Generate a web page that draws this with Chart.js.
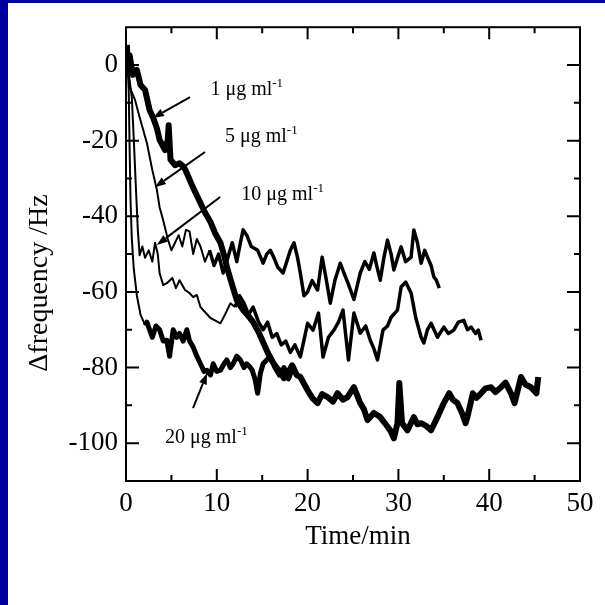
<!DOCTYPE html>
<html>
<head>
<meta charset="utf-8">
<script src="https://cdn.jsdelivr.net/npm/chart.js@4.4.1/dist/chart.umd.min.js"></script>
<style>
  html, body { margin: 0; padding: 0; background: #0000a0; }
  #wrap { position: absolute; left: 8px; top: 3px; width: 597px; height: 602px; background: #fff; }
</style>
</head>
<body>
<div id="wrap"><canvas id="qcm" width="597" height="602"></canvas></div>
<script>
// Axis ticks
const xTicks = [0, 10, 20, 30, 40, 50];
const yTicks = [0, -20, -40, -60, -80, -100];

// [time (min), delta frequency (Hz)]
const conc1 = [
  [0.1, 5.3], [0.2, -1.3], [0.4, 2.6], [0.75, -2.6], [1.2, -1.3], [1.6, -5.3], [2.1, -6.6], [2.6, -11.9],
  [3.0, -14], [3.4, -16.7], [3.7, -19.8], [4.3, -22.5], [4.6, -19.8], [4.7, -15.9], [4.9, -25], [5.4, -26.5],
  [5.9, -26], [6.4, -27], [6.7, -28.6], [7.4, -32.5], [8.2, -36.5], [8.7, -39], [9.3, -41.5], [9.8, -44.4],
  [10.4, -47], [10.8, -50.3], [11.2, -54.2], [11.7, -58.2], [12.2, -62.2], [12.9, -64.8], [13.5, -66.4],
  [14.0, -68], [14.6, -70.6], [15.1, -73.3], [15.6, -76], [15.9, -77.5], [16.4, -79.4], [17.0, -81.2],
  [17.4, -82.8], [17.9, -81.2], [18.3, -79.4], [18.8, -82], [19.2, -82.5], [20.0, -86], [20.5, -88],
  [21.1, -89.4], [21.6, -87], [22.2, -87.8], [22.8, -89], [23.3, -86.8], [23.9, -88.5], [24.4, -87.8],
  [25.1, -85.2], [25.8, -89.4], [26.2, -91], [26.6, -93.9], [27.3, -92], [28.0, -93.1], [28.6, -95],
  [29.1, -96.6], [29.5, -98.7], [29.9, -94.7], [30.1, -84.1], [30.4, -94.7], [31.0, -96.6], [31.7, -93.1],
  [32.1, -95], [32.5, -94.7], [33.1, -95.5], [33.6, -96.6], [34.3, -93.1], [35.0, -89.4], [35.6, -86.8],
  [36.0, -88.5], [36.5, -89.4], [37.0, -92], [37.4, -94.7], [37.6, -93.1], [38.2, -86.8], [38.6, -88],
  [39.1, -86.8], [39.6, -85.5], [40.2, -85.2], [40.7, -86.5], [41.3, -85.2], [41.8, -84], [42.4, -86.8],
  [42.8, -89.4], [43.5, -82.5], [44.0, -84.5], [44.6, -85.2], [45.2, -86.8], [45.4, -82.5]
];

const conc5 = [
  [0.1, 2.6], [0.4, -5.8], [1.0, -9.3], [1.5, -13.8], [2.3, -20.6], [2.9, -27.8], [3.4, -33], [3.7, -37.6],
  [4.0, -40.2], [4.3, -43], [4.6, -46], [5.0, -49], [5.4, -47], [5.8, -45], [6.2, -48], [6.6, -43.6],
  [7.0, -44], [7.4, -50], [7.8, -46], [8.2, -48], [8.7, -52], [9.2, -49], [9.7, -53], [10.2, -50],
  [10.7, -55], [11.2, -51], [11.7, -47], [12.2, -52], [12.6, -47], [12.9, -43.6], [13.3, -45], [13.8, -48],
  [14.5, -49], [15.1, -52.4], [15.5, -50], [15.9, -49], [16.3, -51], [16.7, -53.4], [17.3, -55], [17.7, -52],
  [18.1, -49], [18.5, -47], [18.9, -51], [19.2, -55], [19.6, -61], [20.0, -60], [20.5, -57], [21.1, -59.5],
  [21.6, -50.8], [22.0, -56], [22.5, -63], [23.0, -57], [23.6, -52.4], [24.0, -55], [24.5, -58], [25.1, -62],
  [25.5, -58], [25.8, -55], [26.3, -52], [26.8, -54], [27.3, -49.7], [27.6, -53], [28.0, -56.9], [28.4, -51],
  [28.8, -46.3], [29.2, -50], [29.5, -54.2], [29.9, -51], [30.3, -48.1], [30.8, -52], [31.4, -50.8],
  [31.7, -43.6], [32.1, -47], [32.5, -52.4], [32.9, -49], [33.2, -50.8], [33.6, -53], [33.9, -56],
  [34.2, -57], [34.5, -59]
];

const conc10 = [
  [0.1, 1.3], [0.4, -4], [0.64, -8.5], [0.86, -19.8], [1.1, -33], [1.3, -43.6], [1.5, -50.3], [1.8, -48],
  [2.1, -51], [2.5, -49], [2.9, -52], [3.2, -47], [3.5, -50], [3.7, -55], [4.1, -58.2], [4.5, -57.7],
  [5.1, -56.3], [5.5, -59], [5.9, -56.9], [6.5, -59.5], [7.0, -60.3], [7.4, -61.4], [7.8, -60.8], [8.2, -64],
  [8.7, -65.3], [9.3, -66.9], [9.8, -67.5], [10.4, -68.3], [10.9, -66], [11.5, -63], [12.0, -64], [12.5, -61],
  [13.0, -63], [13.5, -66], [14.0, -64], [14.6, -68], [15.1, -70], [15.6, -68], [16.1, -72], [16.6, -71],
  [17.1, -74], [17.6, -73], [18.1, -76], [18.6, -74], [19.2, -77.2], [20.0, -68.3], [20.6, -70.1],
  [21.2, -65.6], [21.7, -77.2], [22.3, -72], [22.9, -70.1], [23.4, -68], [23.9, -64.8], [24.5, -78],
  [25.1, -65.6], [25.8, -70.9], [26.4, -69], [26.9, -72.8], [27.3, -75], [27.7, -78], [28.3, -70.1],
  [28.8, -69], [29.2, -66.7], [29.9, -64.8], [30.3, -58.7], [30.8, -57.4], [31.4, -60.3], [31.9, -66.7],
  [32.5, -72], [32.8, -73.5], [33.2, -70], [33.6, -68.3], [34.3, -72], [35.0, -69.3], [35.5, -71],
  [36.1, -70.1], [36.6, -68], [37.2, -67.5], [37.6, -70], [38.0, -69.3], [38.5, -71], [38.8, -70.1],
  [39.1, -72.8]
];

const conc20 = [
  [0.1, 4], [0.3, -6.6], [0.4, -22.5], [0.5, -35.7], [0.64, -46], [0.86, -54], [1.2, -61], [1.6, -66],
  [2.1, -68.8], [2.3, -68], [2.6, -70], [2.9, -72], [3.3, -69], [3.7, -70], [4.1, -73], [4.5, -72.8],
  [4.8, -77], [5.2, -70], [5.6, -72], [5.9, -71], [6.3, -73], [6.7, -70], [7.0, -73], [7.4, -74.6],
  [7.8, -77], [8.2, -79], [8.6, -81], [8.9, -80.7], [9.3, -82], [9.6, -79], [10.0, -81], [10.4, -80.7],
  [10.8, -79], [11.1, -78], [11.5, -80], [11.8, -79], [12.2, -77], [12.6, -78], [13.0, -80], [13.3, -79],
  [13.7, -80], [13.9, -80.7], [14.2, -83], [14.5, -86.8], [14.8, -81.5], [15.1, -79], [15.5, -78],
  [15.9, -77], [16.4, -80], [16.9, -82], [17.4, -80], [17.9, -83], [18.4, -80], [18.8, -82]
];

// label anchor, arrow tail and arrow tip in data units
const notes = [
  { text: '1 μg ml', at: [9.3, -7.9], tail: [7.05, -8.5], tip: [2.96, -14] },
  { text: '5 μg ml', at: [10.9, -20.4], tail: [8.7, -23], tip: [3.18, -32.3] },
  { text: '10 μg ml', at: [12.7, -35.7], tail: [10.37, -34.9], tip: [3.4, -47.6] },
  { text: '20 μg ml', at: [4.3, -100], tail: [7.38, -90.7], tip: [8.93, -81.5] }
];

const SERIF = "'Liberation Serif', 'Times New Roman', serif";

const toXY = arr => arr.map(p => ({ x: p[0], y: p[1] }));

const decor = {
  id: 'decor',
  afterDraw(chart) {
    const { ctx, chartArea: a, scales: { x, y } } = chart;
    ctx.save();
    ctx.strokeStyle = '#000';
    ctx.fillStyle = '#000';

    // frame
    ctx.lineWidth = 2;
    ctx.strokeRect(a.left, a.top, a.right - a.left, a.bottom - a.top);

    // inward ticks on all four sides
    ctx.beginPath();
    for (let v = 5; v < 50; v += 5) {
      const px = x.getPixelForValue(v);
      const len = v % 10 === 0 ? 12 : 6;
      ctx.moveTo(px, a.bottom); ctx.lineTo(px, a.bottom - len);
      ctx.moveTo(px, a.top); ctx.lineTo(px, a.top + len);
    }
    for (let v = -100; v < 10; v += 10) {
      const py = y.getPixelForValue(v);
      const len = v % 20 === 0 ? 13 : 6;
      ctx.moveTo(a.left, py); ctx.lineTo(a.left + len, py);
      ctx.moveTo(a.right, py); ctx.lineTo(a.right - len, py);
    }
    ctx.stroke();

    // arrows and concentration labels
    notes.forEach(n => {
      const tx = x.getPixelForValue(n.tail[0]), ty = y.getPixelForValue(n.tail[1]);
      const hx = x.getPixelForValue(n.tip[0]), hy = y.getPixelForValue(n.tip[1]);
      const ang = Math.atan2(hy - ty, hx - tx);
      const headLen = 11, headW = 4;
      const bx = hx - headLen * Math.cos(ang), by = hy - headLen * Math.sin(ang);
      ctx.lineWidth = 2;
      ctx.beginPath();
      ctx.moveTo(tx, ty); ctx.lineTo(bx, by);
      ctx.stroke();
      ctx.beginPath();
      ctx.moveTo(hx, hy);
      ctx.lineTo(bx + headW * Math.sin(ang), by - headW * Math.cos(ang));
      ctx.lineTo(bx - headW * Math.sin(ang), by + headW * Math.cos(ang));
      ctx.closePath();
      ctx.fill();

      const lx = x.getPixelForValue(n.at[0]), ly = y.getPixelForValue(n.at[1]);
      ctx.textAlign = 'left';
      ctx.textBaseline = 'alphabetic';
      ctx.font = '20px ' + SERIF;
      ctx.fillText(n.text, lx, ly);
      const w = ctx.measureText(n.text).width;
      ctx.font = '13px ' + SERIF;
      ctx.fillText('-1', lx + w, ly - 8);
    });

    // axis titles
    ctx.font = '27px ' + SERIF;
    ctx.textAlign = 'center';
    ctx.textBaseline = 'middle';
    ctx.fillText('Time/min', 350, 534);
    ctx.translate(32, 280);
    ctx.rotate(-Math.PI / 2);
    ctx.font = '28px ' + SERIF;
    ctx.fillText('Δfrequency /Hz', 0, 0);
    ctx.restore();
  }
};

const tickFont = { family: SERIF, size: 27 };

// thin start of a trace, heavier once the noisy plateau begins
const widthAfter = (t0, thin, thick) => ({
  borderWidth: ctx => (ctx.p0.parsed.x < t0 ? thin : thick)
});

new Chart(document.getElementById('qcm'), {
  type: 'line',
  data: {
    datasets: [
      { label: '1 μg ml-1', data: toXY(conc1), borderWidth: 6 },
      { label: '5 μg ml-1', data: toXY(conc5), borderWidth: 2, segment: widthAfter(9, 2, 3.5) },
      { label: '10 μg ml-1', data: toXY(conc10), borderWidth: 2, segment: widthAfter(12, 2, 3.5) },
      { label: '20 μg ml-1', data: toXY(conc20), borderWidth: 2, segment: widthAfter(2, 2, 5) }
    ].map(d => Object.assign(d, {
      borderColor: '#000',
      pointRadius: 0,
      tension: 0,
      fill: false,
      borderJoinStyle: 'round'
    }))
  },
  options: {
    responsive: false,
    animation: false,
    events: [],
    layout: { padding: { left: 0, right: 25, top: 24, bottom: 0 } },
    plugins: { legend: { display: false }, tooltip: { enabled: false } },
    scales: {
      x: {
        type: 'linear',
        min: 0,
        max: 50,
        grid: { display: false, drawTicks: false, tickLength: 0 },
        border: { display: false },
        afterBuildTicks: s => { s.ticks = xTicks.map(v => ({ value: v })); },
        afterFit: s => { s.height = 124; },
        ticks: { color: '#000', font: tickFont, padding: 7, maxRotation: 0, autoSkip: false }
      },
      y: {
        min: -110,
        max: 10,
        grid: { display: false, drawTicks: false, tickLength: 0 },
        border: { display: false },
        afterBuildTicks: s => { s.ticks = yTicks.map(v => ({ value: v })); },
        afterFit: s => { s.width = 118; },
        ticks: { color: '#000', font: tickFont, padding: 8, autoSkip: false }
      }
    }
  },
  plugins: [decor]
});
</script>
</body>
</html>
